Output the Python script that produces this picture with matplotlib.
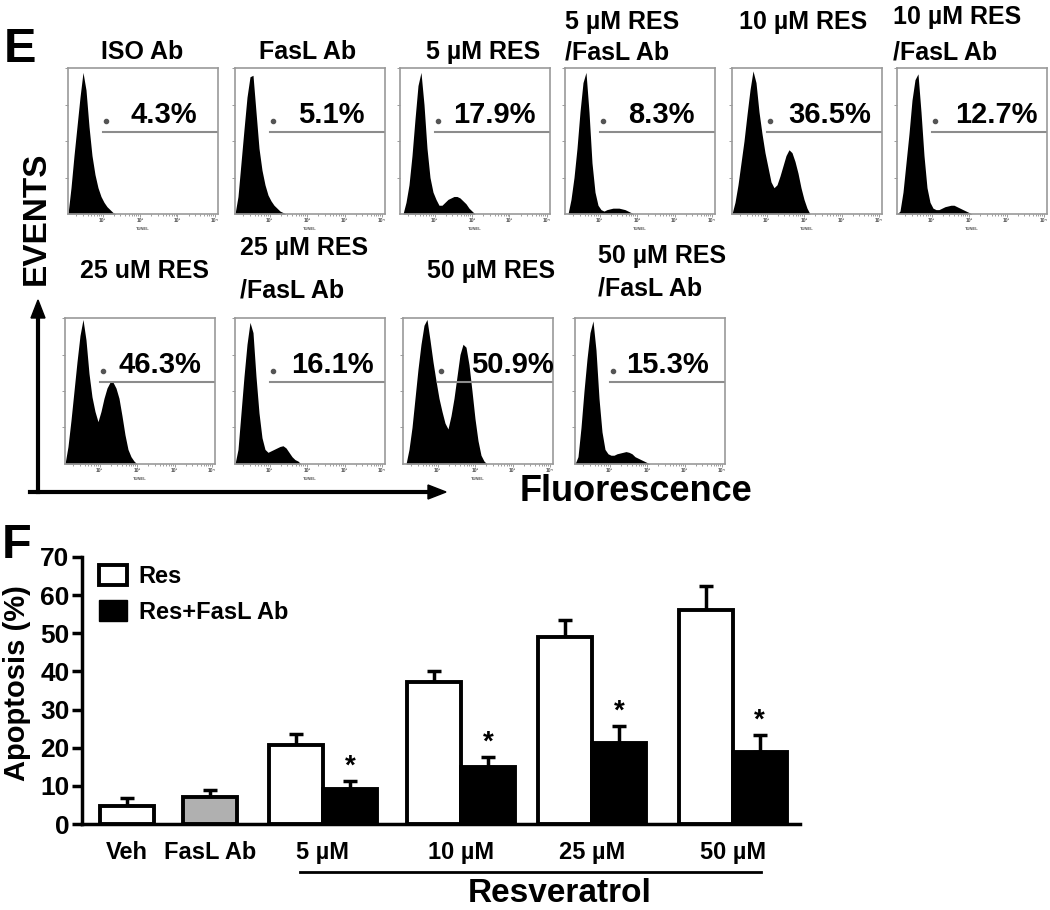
import numpy as np
import matplotlib.pyplot as plt
from matplotlib.patches import Patch

plt.rcParams['font.family'] = ['Liberation Sans', 'DejaVu Sans']
plt.rcParams['font.weight'] = 'bold'

W, H = 1050, 910

# ---- panel E: TUNEL histograms (height as fraction of box, every 0.02 of the x range)
hist_step = 0.02
hist_titles = ["ISO Ab", "FasL Ab", "5 µM RES", "5 µM RES\n/FasL Ab", "10 µM RES",
               "10 µM RES\n/FasL Ab", "25 uM RES", "25 µM RES\n/FasL Ab", "50 µM RES",
               "50 µM RES\n/FasL Ab"]
hist_percent = ["4.3%", "5.1%", "17.9%", "8.3%", "36.5%", "12.7%",
                "46.3%", "16.1%", "50.9%", "15.3%"]

iso_ab = [0, 0.18, 0.4, 0.6, 0.8, 0.97, 0.85, 0.6, 0.4, 0.27, 0.18, 0.12, 0.08, 0.05,
          0.03, 0.01, 0]
fasl_ab = [0, 0.12, 0.35, 0.58, 0.8, 0.94, 0.95, 0.7, 0.45, 0.3, 0.2, 0.13, 0.09, 0.06,
           0.04, 0.02, 0.01, 0]
res5 = [0, 0, 0.08, 0.2, 0.4, 0.65, 0.88, 0.97, 0.75, 0.45, 0.25, 0.15, 0.1, 0.06, 0.06,
        0.08, 0.1, 0.11, 0.12, 0.12, 0.11, 0.09, 0.07, 0.04, 0.02, 0]
res5_fasl = [0, 0, 0.1, 0.25, 0.45, 0.7, 0.9, 0.97, 0.7, 0.35, 0.15, 0.06, 0.03, 0.02,
             0.03, 0.035, 0.04, 0.04, 0.04, 0.035, 0.03, 0.02, 0.01, 0]
res10 = [0, 0.08, 0.2, 0.35, 0.5, 0.68, 0.85, 0.98, 0.9, 0.7, 0.55, 0.42, 0.32, 0.22,
         0.18, 0.2, 0.26, 0.33, 0.4, 0.44, 0.42, 0.36, 0.28, 0.18, 0.1, 0.04, 0]
res10_fasl = [0, 0.02, 0.15, 0.35, 0.55, 0.78, 0.92, 0.96, 0.7, 0.4, 0.18, 0.08, 0.04,
              0.03, 0.03, 0.04, 0.05, 0.055, 0.06, 0.06, 0.05, 0.04, 0.03, 0.02, 0.01, 0]
res25 = [0, 0.12, 0.3, 0.5, 0.7, 0.88, 0.99, 0.85, 0.62, 0.46, 0.36, 0.29, 0.36, 0.45,
         0.52, 0.56, 0.56, 0.52, 0.45, 0.33, 0.2, 0.1, 0.05, 0.02, 0]
res25_fasl = [0, 0.1, 0.35, 0.6, 0.82, 0.97, 0.9, 0.6, 0.35, 0.18, 0.1, 0.08, 0.09, 0.1,
              0.11, 0.12, 0.125, 0.11, 0.08, 0.05, 0.03, 0.02, 0]
res50 = [0, 0, 0.1, 0.25, 0.45, 0.65, 0.82, 0.95, 0.99, 0.85, 0.7, 0.57, 0.45, 0.36,
         0.28, 0.24, 0.33, 0.45, 0.6, 0.75, 0.82, 0.8, 0.68, 0.5, 0.31, 0.16, 0.06,
         0.02, 0]
res50_fasl = [0, 0.05, 0.25, 0.5, 0.72, 0.9, 0.98, 0.78, 0.45, 0.22, 0.1, 0.07, 0.06,
              0.06, 0.07, 0.075, 0.08, 0.085, 0.08, 0.07, 0.05, 0.04, 0.03, 0.02, 0.01, 0]
hist_counts = [iso_ab, fasl_ab, res5, res5_fasl, res10, res10_fasl,
               res25, res25_fasl, res50, res50_fasl]

# ---- panel F: apoptosis (%)
ctrl_labels = ["Veh", "FasL Ab"]
ctrl_mean = [4.7, 7.1]
ctrl_err = [2.1, 1.8]
dose_labels = ["5 µM", "10 µM", "25 µM", "50 µM"]
res_mean = [20.8, 37.1, 48.9, 56.0]
res_err = [2.9, 2.9, 4.5, 6.3]
fasl_mean = [9.2, 15.0, 21.3, 18.9]
fasl_err = [2.1, 2.6, 4.5, 4.5]


def fx(x):
    return x / W


def fy(y):
    return 1 - y / H


fig = plt.figure(figsize=(W / 100, H / 100), dpi=100)

# box layout in pixels: (left, top), all 150 x 146
box_pos = [(68, 68), (235, 68), (400, 68), (565, 68), (732, 68), (897, 68),
           (65, 318), (235, 318), (403, 318), (575, 318)]
# title line positions (x, y, ha) per panel
title_pos = [[(142, 52, 'center')], [(308, 52, 'center')], [(483, 52, 'center')],
             [(565, 22, 'left'), (565, 52, 'left')], [(803, 22, 'center')],
             [(893, 17, 'left'), (893, 53, 'left')], [(144, 271, 'center')],
             [(240, 248, 'left'), (240, 291, 'left')], [(491, 271, 'center')],
             [(598, 256, 'left'), (598, 289, 'left')]]
pct_x = [0.64, 0.64, 0.63, 0.64, 0.65, 0.66, 0.63, 0.65, 0.73, 0.62]
bw, bh = 150, 146
gray = '#8c8c8c'
major = [0.23, 0.48, 0.73, 0.98]
minor = [m + 0.25 * np.log10(k) for m in [-0.02] + major[:-1] for k in range(2, 10)]

for i, counts in enumerate(hist_counts):
    left, top = box_pos[i]
    ax = fig.add_axes([fx(left), fy(top + bh), fx(bw), bh / H])
    xs = np.arange(len(counts)) * hist_step
    ax.fill_between(xs, counts, color='black', lw=0)
    ax.set_xlim(0, 1)
    ax.set_ylim(0, 1.0)
    for s in ax.spines.values():
        s.set_color('#9a9a9a')
        s.set_linewidth(1.2)
    ax.plot([0.23, 1], [0.56, 0.56], color=gray, lw=1.5)
    ax.plot(0.255, 0.64, 'o', ms=3, color='#555555')
    ax.text(pct_x[i], 0.68, hist_percent[i], fontsize=21, ha='center', va='center',
            transform=ax.transAxes)
    ax.set_xticks(major)
    ax.set_xticklabels(["10¹", "10²", "10³", "10⁴"], fontsize=3.5, color='#555555')
    ax.set_xticks(minor, minor=True)
    ax.set_yticks([0.25, 0.5, 0.75, 1.0])
    ax.set_yticklabels([])
    ax.tick_params(axis='both', which='both', length=2, width=0.6, color=gray, pad=1)
    ax.tick_params(axis='both', which='minor', length=1.2)
    if i < len(hist_counts) - 1:
        ax.text(0.5, -0.09, "TUNEL", fontsize=3, color='#555555', ha='center', va='top',
                transform=ax.transAxes)
    for (tx, ty, ha), line in zip(title_pos[i], hist_titles[i].split('\n')):
        fig.text(fx(tx), fy(ty), line, fontsize=18, ha=ha, va='center')

fig.text(fx(20), fy(50), "E", fontsize=35, ha='center', va='center')
fig.text(fx(36), fy(218), "EVENTS", fontsize=24, rotation=90, ha='center', va='center')
fig.add_artist(plt.Line2D([fx(30), fx(430)], [fy(492), fy(492)], color='black', lw=3))
fig.add_artist(plt.Line2D([fx(38), fx(38)], [fy(492), fy(318)], color='black', lw=3))
fig.patches.append(plt.Polygon([[fx(446), fy(492)], [fx(428), fy(485)], [fx(428), fy(499)]],
                               closed=True, color='black', transform=fig.transFigure))
fig.patches.append(plt.Polygon([[fx(38), fy(300)], [fx(31), fy(318)], [fx(45), fy(318)]],
                               closed=True, color='black', transform=fig.transFigure))
fig.text(fx(636), fy(492), "Fluorescence", fontsize=26, ha='center', va='center')

# ---- bar chart
ax = fig.add_axes([fx(82), fy(824), fx(800 - 82), (824 - 557) / H])
ctrl_x = np.array([0.0, 1.0])
group_x = np.array([2.36, 4.02, 5.60, 7.29])
width = 0.65
lw = 2.8
ax.bar(ctrl_x, ctrl_mean, width, color=['white', '#b0b0b0'], edgecolor='black', lw=lw, zorder=3)
ax.bar(group_x - width / 2, res_mean, width, color='white', edgecolor='black', lw=lw, zorder=3)
ax.bar(group_x + width / 2, fasl_mean, width, color='black', edgecolor='black', lw=lw, zorder=3)
ekw = dict(fmt='none', ecolor='black', elinewidth=2.5, capsize=5, capthick=2.5, zorder=2)
ax.errorbar(ctrl_x, ctrl_mean, yerr=[np.zeros(2), ctrl_err], **ekw)
ax.errorbar(group_x - width / 2, res_mean, yerr=[np.zeros(4), res_err], **ekw)
ax.errorbar(group_x + width / 2, fasl_mean, yerr=[np.zeros(4), fasl_err], **ekw)
for gx, m, e in zip(group_x, fasl_mean, fasl_err):
    ax.text(gx + width / 2, m + e + 0.3, "*", fontsize=20, ha='center', va='bottom')

ax.set_xlim(-0.54, 8.1)
ax.set_ylim(0, 70)
ax.set_yticks(range(0, 71, 10))
ax.tick_params(axis='y', labelsize=19, length=7, width=2.5, pad=2)
ax.set_xticks(list(ctrl_x) + list(group_x))
ax.set_xticklabels(ctrl_labels + dose_labels, fontsize=17)
ax.tick_params(axis='x', length=0, pad=12)
for s in ['top', 'right']:
    ax.spines[s].set_visible(False)
for s in ['left', 'bottom']:
    ax.spines[s].set_linewidth(2.5)
fig.text(fx(17), fy(683), "Apoptosis (%)", fontsize=21, fontweight='bold', rotation=90,
         ha='center', va='center')

handles = [Patch(facecolor='white', edgecolor='black', lw=2.8, label='Res'),
           Patch(facecolor='black', edgecolor='black', label='Res+FasL Ab')]
ax.legend(handles=handles, loc='upper left', bbox_to_anchor=(0.01, 1.005), frameon=False,
          fontsize=17, handlelength=1.2, handleheight=0.95, handletextpad=0.5,
          labelspacing=0.5, borderaxespad=0)

fig.add_artist(plt.Line2D([fx(300), fx(761)], [fy(872), fy(872)], color='black', lw=2))
fig.text(fx(560), fy(893), "Resveratrol", fontsize=24, ha='center', va='center')
fig.text(fx(17), fy(545), "F", fontsize=35, ha='center', va='center')

fig.savefig('out.png', dpi=100)
